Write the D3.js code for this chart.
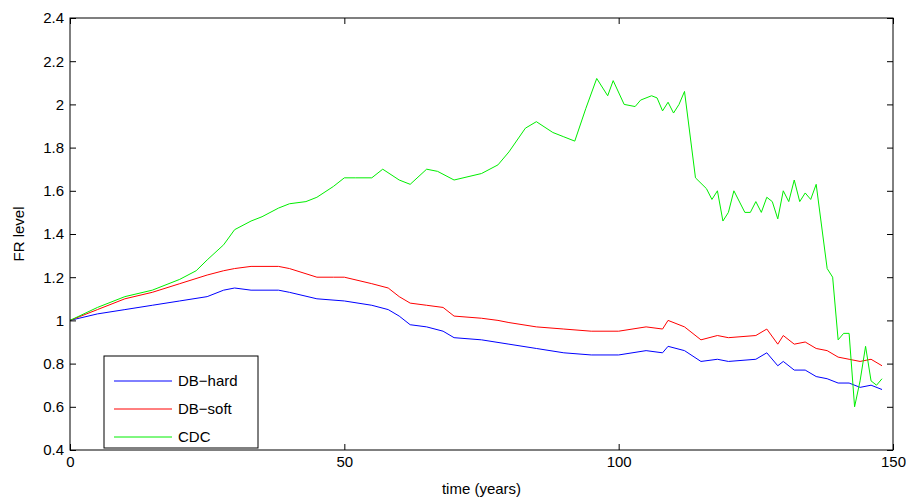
<!DOCTYPE html><html><head><script src="https://d3js.org/d3.v7.min.js"></script>
<style>body{margin:0;background:#fff}text{font-family:"Liberation Sans",Arial,sans-serif;font-size:15px}</style></head><body><svg id="c" width="906" height="497"></svg>
<script>
const hardT=[0,5,10,15,20,25,28,30,33,38,40,45,50,55,58,60,62,65,68,70,75,80,85,90,95,100,105,108,109,112,115,118,120,125,127,129,130,132,134,136,138,140,142,144,146,148];
const hardV=[1.0,1.03,1.05,1.07,1.09,1.11,1.14,1.15,1.14,1.14,1.13,1.1,1.09,1.07,1.05,1.02,0.98,0.97,0.95,0.92,0.91,0.89,0.87,0.85,0.84,0.84,0.86,0.85,0.88,0.86,0.81,0.82,0.81,0.82,0.85,0.79,0.81,0.77,0.77,0.74,0.73,0.71,0.71,0.69,0.7,0.68];
const softT=[0,5,10,15,20,25,28,30,33,38,40,45,48,50,55,58,60,62,65,68,70,75,78,80,85,90,95,100,105,108,109,112,115,118,120,125,127,129,130,132,134,136,138,140,142,144,146,148];
const softV=[1.0,1.05,1.1,1.13,1.17,1.21,1.23,1.24,1.25,1.25,1.24,1.2,1.2,1.2,1.17,1.15,1.11,1.08,1.07,1.06,1.02,1.01,1.0,0.99,0.97,0.96,0.95,0.95,0.97,0.96,1.0,0.97,0.91,0.93,0.92,0.93,0.96,0.89,0.93,0.89,0.9,0.87,0.86,0.83,0.82,0.81,0.82,0.79];
const cdcT=[0,5,10,15,20,23,25,28,30,33,35,38,40,43,45,48,50,52,55,57,60,62,65,67,70,75,78,80,83,85,88,90,92,94,96,98,99,101,103,104,106,107,108,109,110,111,112,114,116,117,118,119,120,121,123,124,125,126,127,128,129,130,131,132,133,134,135,136,138,139,140,141,142,143,144,145,146,147,148];
const cdcV=[1.0,1.06,1.11,1.14,1.19,1.23,1.28,1.35,1.42,1.46,1.48,1.52,1.54,1.55,1.57,1.62,1.66,1.66,1.66,1.7,1.65,1.63,1.7,1.69,1.65,1.68,1.72,1.78,1.89,1.92,1.87,1.85,1.83,1.98,2.12,2.04,2.11,2.0,1.99,2.02,2.04,2.03,1.97,2.01,1.96,2.0,2.06,1.66,1.61,1.56,1.6,1.46,1.5,1.6,1.5,1.5,1.55,1.5,1.57,1.55,1.47,1.6,1.55,1.65,1.55,1.59,1.56,1.63,1.24,1.2,0.91,0.94,0.94,0.6,0.72,0.88,0.72,0.7,0.73];
const seriesNames=["DB\u2212hard","DB\u2212soft","CDC"];
const colors=["#0000ff","#ff0000","#00ee00"];
const xTicks=[0,50,100,150], yTicks=[0.4,0.6,0.8,1,1.2,1.4,1.6,1.8,2,2.2,2.4];
const svg=d3.select("#c");
const L=70,R=893,T=18,B=450;
const x=d3.scaleLinear().domain([0,150]).range([L,R]);
const y=d3.scaleLinear().domain([0.4,2.4]).range([B,T]);
const data=[[hardT,hardV],[softT,softV],[cdcT,cdcV]];
const line=d3.line().x(d=>x(d[0])).y(d=>y(d[1]));
data.forEach((s,i)=>svg.append("path").attr("d",line(s[0].map((t,j)=>[t,s[1][j]]))).attr("fill","none").attr("stroke",colors[i]).attr("stroke-width",1));
svg.append("rect").attr("x",L).attr("y",T).attr("width",R-L).attr("height",B-T).attr("fill","none").attr("stroke","#000");
const fmt=d=>String(d);
svg.append("g").attr("transform",`translate(0,${B})`).call(d3.axisBottom(x).tickValues(xTicks).tickFormat(fmt).tickSizeInner(-6).tickSizeOuter(0).tickPadding(6)).call(g=>g.select(".domain").remove());
svg.append("g").attr("transform",`translate(0,${T})`).call(d3.axisTop(x).tickValues(xTicks).tickFormat("").tickSizeInner(-6).tickSizeOuter(0)).call(g=>g.select(".domain").remove());
svg.append("g").attr("transform",`translate(${L},0)`).call(d3.axisLeft(y).tickValues(yTicks).tickFormat(fmt).tickSizeInner(-6).tickSizeOuter(0).tickPadding(6)).call(g=>g.select(".domain").remove());
svg.append("g").attr("transform",`translate(${R},0)`).call(d3.axisRight(y).tickValues(yTicks).tickFormat("").tickSizeInner(-6).tickSizeOuter(0)).call(g=>g.select(".domain").remove());
svg.selectAll(".tick text").attr("fill","#000").style("font-size","15px").style("font-family","Liberation Sans, Arial");
svg.append("text").attr("x",(L+R)/2).attr("y",494).attr("text-anchor","middle").text("time (years)");
svg.append("text").attr("transform",`translate(24,${(T+B)/2}) rotate(-90)`).attr("text-anchor","middle").text("FR level");
const lg=svg.append("g");
lg.append("rect").attr("x",104).attr("y",356).attr("width",154).attr("height",92).attr("fill","#fff").attr("stroke","#000");
seriesNames.forEach((n,i)=>{const yy=381+i*28;
lg.append("line").attr("x1",114).attr("x2",172).attr("y1",yy).attr("y2",yy).attr("stroke",colors[i]);
lg.append("text").attr("x",178).attr("y",yy+5).text(n);});
</script></body></html>
